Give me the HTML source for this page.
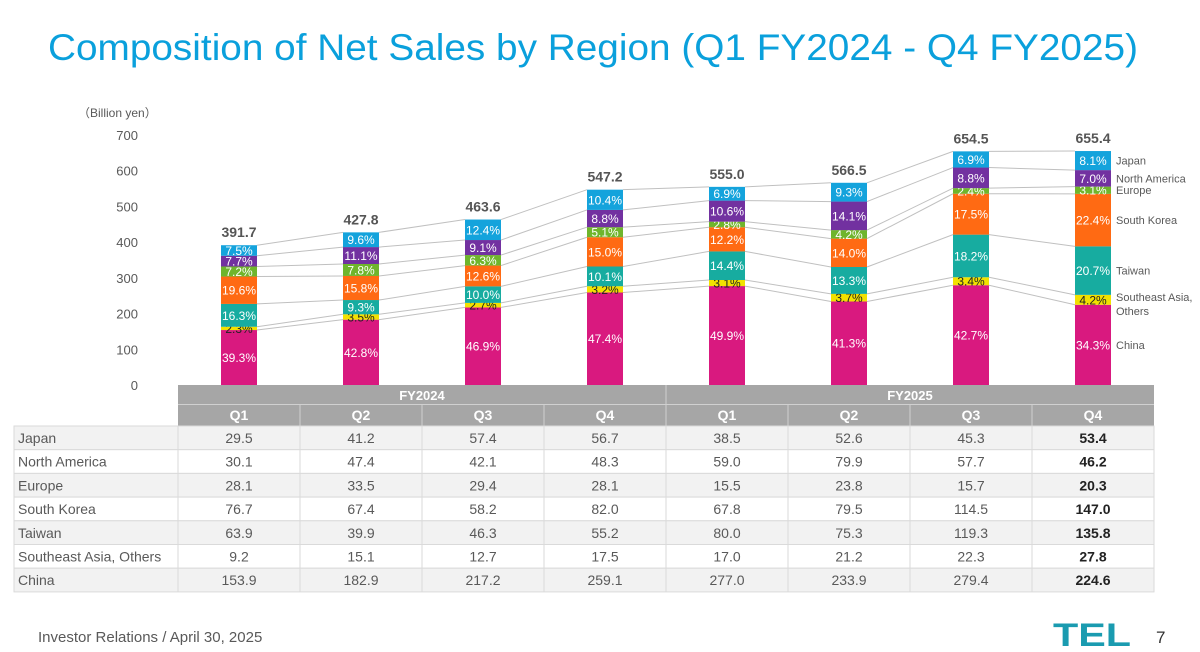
<!DOCTYPE html>
<html><head><meta charset="utf-8"><style>
html,body{margin:0;padding:0;background:#fff;}
svg{display:block;font-family:"Liberation Sans",Arial,sans-serif;}
</style></head><body>
<svg id="c" width="1200" height="652" viewBox="0 0 1200 652">
<text x="48" y="60" font-size="37" fill="#0aa0dc" textLength="1090" lengthAdjust="spacingAndGlyphs">Composition of Net Sales by Region (Q1 FY2024 - Q4 FY2025)</text>
<text x="78" y="117" font-size="12" fill="#595959">（Billion yen）</text>
<g id="axis"></g><g id="lines"></g><g id="bars"></g><g id="table"></g>
<text x="38" y="642" font-size="15" fill="#595959">Investor Relations / April 30, 2025</text>
<text x="1053" y="646" font-size="32" font-weight="bold" fill="#1a9bb0" textLength="78" lengthAdjust="spacingAndGlyphs">TEL</text>
<text x="1156" y="643" font-size="17" fill="#333">7</text>
</svg>
<script>
const quarters = ["Q1","Q2","Q3","Q4","Q1","Q2","Q3","Q4"];
const regions = ["Japan","North America","Europe","South Korea","Taiwan","Southeast Asia, Others","China"];
const japan = [29.5,41.2,57.4,56.7,38.5,52.6,45.3,53.4];
const northAmerica = [30.1,47.4,42.1,48.3,59.0,79.9,57.7,46.2];
const europe = [28.1,33.5,29.4,28.1,15.5,23.8,15.7,20.3];
const southKorea = [76.7,67.4,58.2,82.0,67.8,79.5,114.5,147.0];
const taiwan = [63.9,39.9,46.3,55.2,80.0,75.3,119.3,135.8];
const seAsia = [9.2,15.1,12.7,17.5,17.0,21.2,22.3,27.8];
const china = [153.9,182.9,217.2,259.1,277.0,233.9,279.4,224.6];
const totals = [391.7,427.8,463.6,547.2,555.0,566.5,654.5,655.4];
const yTicks = [0,100,200,300,400,500,600,700];

const NS="http://www.w3.org/2000/svg";
function mk(tag,attrs,parent,txt){const e=document.createElementNS(NS,tag);for(const k in attrs)e.setAttribute(k,attrs[k]);if(txt!==undefined)e.textContent=txt;parent.appendChild(e);return e;}
const y0=385, k=250/700;
const Y=v=>y0-v*k;
const colW=122, tableX=178, barW=36;
const X=i=>tableX+colW*i+colW/2;
const axis=document.getElementById('axis'),linesG=document.getElementById('lines'),barsG=document.getElementById('bars'),tableG=document.getElementById('table');
yTicks.forEach(t=>{
  const e=mk('text',{x:138,y:Y(t)+5,'font-size':13,fill:'#595959','text-anchor':'end'},axis,String(t));
  
  
});
const stack=[
 {name:"China",vals:china,color:"#d9197f",txt:"#fff"},
 {name:"Southeast Asia, Others",vals:seAsia,color:"#f2e100",txt:"#222"},
 {name:"Taiwan",vals:taiwan,color:"#17aca0",txt:"#fff"},
 {name:"South Korea",vals:southKorea,color:"#ff6a13",txt:"#fff"},
 {name:"Europe",vals:europe,color:"#6fb52c",txt:"#fff"},
 {name:"North America",vals:northAmerica,color:"#7231a0",txt:"#fff"},
 {name:"Japan",vals:japan,color:"#14a3dc",txt:"#fff"}];
const n=quarters.length;
const tops=[];
for(let i=0;i<n;i++){let c=0;const t=[];stack.forEach(r=>{c+=r.vals[i];t.push(c);});tops.push(t);}
for(let i=0;i<n-1;i++){
  for(let s=0;s<stack.length;s++){
    const ln=mk('line',{x1:X(i)+barW/2,y1:Y(tops[i][s]),x2:X(i+1)-barW/2,y2:Y(tops[i+1][s]),stroke:'#c0c0c0','stroke-width':1},linesG);
    
    
  }
}
for(let i=0;i<n;i++){
  let base=0;
  stack.forEach((r,s)=>{
    const v=r.vals[i];
    const rc=mk('rect',{x:X(i)-barW/2,y:Y(base+v),width:barW,height:v*k,fill:r.color},barsG);
    
    
    const pct=(v/totals[i]*100).toFixed(1)+'%';
    const tl=mk('text',{x:X(i),y:Y(base+v/2)+4.5,'font-size':12,fill:r.txt,'text-anchor':'middle'},barsG,pct);
    
    
    if(i===n-1){
      const lg=mk('text',{x:X(i)+barW/2+5,y:Y(base+v/2)+4,'font-size':11,fill:'#595959'},barsG);
      
      
      if(r.name==="Southeast Asia, Others"){
        mk('tspan',{x:X(i)+barW/2+5,dy:-3},lg,"Southeast Asia,");
        mk('tspan',{x:X(i)+barW/2+5,dy:14},lg,"Others");
      } else lg.textContent=r.name;
    }
    base+=v;
  });
  const tt=mk('text',{x:X(i),y:Y(tops[i][stack.length-1])-8,'font-size':14,'font-weight':'bold',fill:'#555','text-anchor':'middle'},barsG,totals[i].toFixed(1));
  
  
}
const tEnd=tableX+colW*n;
const h1=mk('rect',{x:tableX,y:385,width:tEnd-tableX,height:41,fill:'#a6a6a6'},tableG);

mk('line',{x1:tableX,y1:404.5,x2:tEnd,y2:404.5,stroke:'#d0d0d0'},tableG);
mk('line',{x1:tableX+colW*4,y1:385,x2:tableX+colW*4,y2:426,stroke:'#d0d0d0'},tableG);
["FY2024","FY2025"].forEach((f,j)=>{const e=mk('text',{x:tableX+colW*(4*j+2),y:400,'font-size':13,'font-weight':'bold',fill:'#fff','text-anchor':'middle'},tableG,f);
 });
quarters.forEach((q,i)=>{
  if(i>0)mk('line',{x1:tableX+colW*i,y1:405,x2:tableX+colW*i,y2:426,stroke:'#d0d0d0'},tableG);
  const e=mk('text',{x:X(i),y:420,'font-size':14,'font-weight':'bold',fill:'#fff','text-anchor':'middle'},tableG,q);
  
});
const rowData=[japan,northAmerica,europe,southKorea,taiwan,seAsia,china];
const rh=23.7;
regions.forEach((rg,r)=>{
  const yy=426+r*rh;
  const bg=mk('rect',{x:14,y:yy,width:tEnd-14,height:rh,fill:r%2===0?'#f2f2f2':'#fff',stroke:'#dadada','stroke-width':1},tableG);
  
  const lb=mk('text',{x:18,y:yy+17,'font-size':14,fill:'#595959'},tableG,rg);
  
  rowData[r].forEach((v,i)=>{
    const e=mk('text',{x:X(i),y:yy+17,'font-size':14,fill:i===n-1?'#222':'#595959','font-weight':i===n-1?'bold':'normal','text-anchor':'middle'},tableG,v.toFixed(1));
    
  });
});
for(let i=0;i<=n;i++){mk('line',{x1:tableX+colW*i,y1:426,x2:tableX+colW*i,y2:426+7*rh,stroke:'#dadada'},tableG);}
</script>
</body></html>
